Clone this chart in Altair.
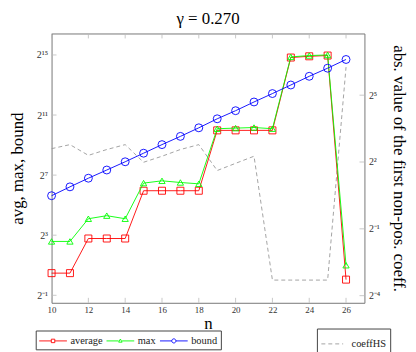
import altair as alt
import pandas as pd

# ---------------- data ----------------
n_values = list(range(10, 27))
average = [1.39, 1.39, 6.87, 6.87, 6.87, 62.3, 62.3, 62.3, 62.3, 1010, 1010, 1010, 1010,
           29100, 30800, 31900, 1.03]
maximum = [6.0, 6.0, 17.1, 19.7, 17.1, 88.6, 98.4, 91.1, 85.6, 1090, 1120, 1152, 1090,
           29950, 31900, 32768, 2.0]
bound = [49.5, 74.5, 111, 162, 237, 352, 523, 765, 1136, 1722, 2503, 3743, 5518,
         8192, 12240, 17800, 26600]
coeff_hs = [6.06, 6.87, 4.92, 5.9, 6.87, 3.97, 4.79, 5.9, 6.87, 3.07, 3.84, 4.79,
            0.1015, 0.1015, 0.1015, 0.1015, 76.6]
series_names = ["average", "max", "bound"]
coeff_name = "coeffHS"
x_ticks = [10, 12, 14, 16, 18, 20, 22, 24, 26]
left_ticks = [0.5, 8, 128, 2048, 32768]
left_tick_labels = ["2⁻¹", "2³", "2⁷", "2¹¹", "2¹⁵"]
right_ticks = [0.0625, 0.5, 4, 32]
right_tick_labels = ["2⁻⁴", "2⁻¹", "2²", "2⁵"]

# ---------------- styling ----------------
W, H = 316, 272
SERIF = "Liberation Serif"
colors = ["#ff0000", "#00ff00", "#0000ff"]
shapes = ["square", "triangle-up", "circle"]
sizes = [50, 40, 64]
# legend symbols: a short line with the marker in the middle
legend_paths = [
    "M-2,0L-0.25,0M0.25,0L2,0M-0.25,-0.25L0.25,-0.25L0.25,0.25L-0.25,0.25Z",
    "M-2,0L-0.25,0M0.25,0L2,0M0,-0.27L0.25,0.18L-0.25,0.18Z",
    "M-2,0L-0.3,0M0.3,0L2,0M0.3,0A0.3,0.3 0 1,1 -0.3,0A0.3,0.3 0 1,1 0.3,0",
]


def label_expr(vals, labels):
    expr = "''"
    for v, l in zip(reversed(vals), reversed(labels)):
        expr = f"abs(datum.value - {v}) < {v * 1e-6} ? '{l}' : ({expr})"
    return expr


long_df = pd.DataFrame({
    "n": n_values * 3,
    "value": average + maximum + bound,
    "series": [s for s in series_names for _ in n_values],
})
coeff_df = pd.DataFrame({"n": n_values, "coeff": coeff_hs, "label": coeff_name})

x_scale = alt.Scale(domain=[10, 27], nice=False, zero=False)
x_axis = alt.Axis(values=x_ticks, title="n", ticks=False, domain=False, grid=False,
                  labelFlush=False,
                  labelFont=SERIF, labelFontSize=9, labelColor="#333", labelPadding=3,
                  titleFont=SERIF, titleFontSize=17, titleFontWeight="normal",
                  titleColor="#000", titlePadding=1)
x_enc = alt.X("n:Q", scale=x_scale, axis=x_axis)

yl_scale = alt.Scale(type="log", base=2, domain=[2 ** -1.5, 2 ** 16.43], nice=False)
yl_axis = alt.Axis(orient="left", values=left_ticks,
                   labelExpr=label_expr(left_ticks, left_tick_labels),
                   title="avg, max, bound", ticks=False, domain=False, grid=False,
                   labelFlush=False,
                   labelFont=SERIF, labelFontSize=10, labelColor="#333", labelPadding=4,
                   titleFont=SERIF, titleFontSize=17, titleFontWeight="normal",
                   titleColor="#000", titlePadding=10)
yr_scale = alt.Scale(type="log", base=2, domain=[2 ** -4.32, 2 ** 7.77], nice=False)
yr_axis = alt.Axis(orient="right", values=right_ticks,
                   labelExpr=label_expr(right_ticks, right_tick_labels),
                   title="abs. value of the first non-pos. coeff.", ticks=False,
                   domain=False, grid=False, labelFlush=False,
                   labelFont=SERIF, labelFontSize=10, labelColor="#333", labelPadding=4,
                   titleFont=SERIF, titleFontSize=17, titleFontWeight="normal",
                   titleColor="#000", titlePadding=10)

# ---------- left layer ----------
left_layers = []
# inward ticks
left_layers.append(
    alt.Chart(pd.DataFrame({"v": left_ticks})).mark_rule(color="#bbb", strokeWidth=0.8)
    .encode(y=alt.Y("v:Q", scale=yl_scale, axis=yl_axis), x=alt.value(0), x2=alt.value(5))
)
xt_df = pd.DataFrame({"v": x_ticks})
left_layers.append(
    alt.Chart(xt_df).mark_rule(color="#bbb", strokeWidth=0.8)
    .encode(x=alt.X("v:Q", scale=x_scale, axis=x_axis), y=alt.value(H), y2=alt.value(H - 5))
)
left_layers.append(
    alt.Chart(xt_df).mark_rule(color="#bbb", strokeWidth=0.8)
    .encode(x=alt.X("v:Q", scale=x_scale, axis=x_axis), y=alt.value(0), y2=alt.value(5))
)

for s, c, sh, sz in zip(series_names, colors, shapes, sizes):
    base = alt.Chart(long_df).transform_filter(alt.datum.series == s)
    left_layers.append(
        base.mark_line(color=c, strokeWidth=0.9)
        .encode(x=x_enc, y=alt.Y("value:Q", scale=yl_scale, axis=yl_axis))
    )
    left_layers.append(
        base.mark_point(color=c, shape=sh, size=sz, filled=False, strokeWidth=0.9, opacity=1)
        .encode(x=x_enc, y=alt.Y("value:Q", scale=yl_scale, axis=yl_axis))
    )

legend1 = alt.Legend(orient="none", legendX=-16, legendY=300, direction="horizontal",
                     title=None, strokeColor="#444", padding=3, cornerRadius=0,
                     labelFont=SERIF, labelFontSize=10.5, labelColor="#222",
                     symbolSize=196, symbolStrokeWidth=0.9, symbolOffset=7,
                     labelOffset=10, columnPadding=1, symbolFillColor="transparent")
left_layers.append(
    alt.Chart(long_df).mark_point(opacity=0, filled=False)
    .encode(
        x=x_enc,
        y=alt.Y("value:Q", scale=yl_scale, axis=yl_axis),
        color=alt.Color("series:N", scale=alt.Scale(domain=series_names, range=colors),
                        legend=legend1),
        shape=alt.Shape("series:N", scale=alt.Scale(domain=series_names, range=legend_paths),
                        legend=legend1),
    )
)
left = alt.layer(*left_layers)

# ---------- right layer ----------
right_ticks_layer = (
    alt.Chart(pd.DataFrame({"v": right_ticks})).mark_rule(color="#bbb", strokeWidth=0.8)
    .encode(y=alt.Y("v:Q", scale=yr_scale, axis=yr_axis), x=alt.value(W - 5), x2=alt.value(W))
)
legend2 = alt.Legend(orient="none", legendX=268, legendY=298, direction="horizontal",
                     title=None, strokeColor="#444", padding=4, cornerRadius=0,
                     labelFont=SERIF, labelFontSize=10.5, labelColor="#222",
                     symbolType="stroke", symbolSize=484, symbolStrokeColor="#999",
                     symbolStrokeWidth=0.9, labelOffset=8)
coeff_line = (
    alt.Chart(coeff_df).mark_line(color="#999", strokeWidth=0.9)
    .encode(
        x=x_enc,
        y=alt.Y("coeff:Q", scale=yr_scale, axis=yr_axis),
        strokeDash=alt.StrokeDash("label:N", scale=alt.Scale(domain=[coeff_name], range=[[4, 3]]),
                                  legend=legend2),
    )
)
right = alt.layer(right_ticks_layer, coeff_line)

chart = (
    alt.layer(right, left)
    .resolve_scale(y="independent")
    .properties(
        width=W, height=H,
        padding={"left": 0, "top": 0, "right": 0, "bottom": 0},
        title=alt.Title("γ = 0.270", font=SERIF, fontSize=17, fontWeight="normal",
                        color="#000", offset=5, anchor="middle"),
    )
    .configure_view(stroke="#777", strokeWidth=1)
)

chart.save("out.html", embed_options={"renderer": "svg", "actions": False})
